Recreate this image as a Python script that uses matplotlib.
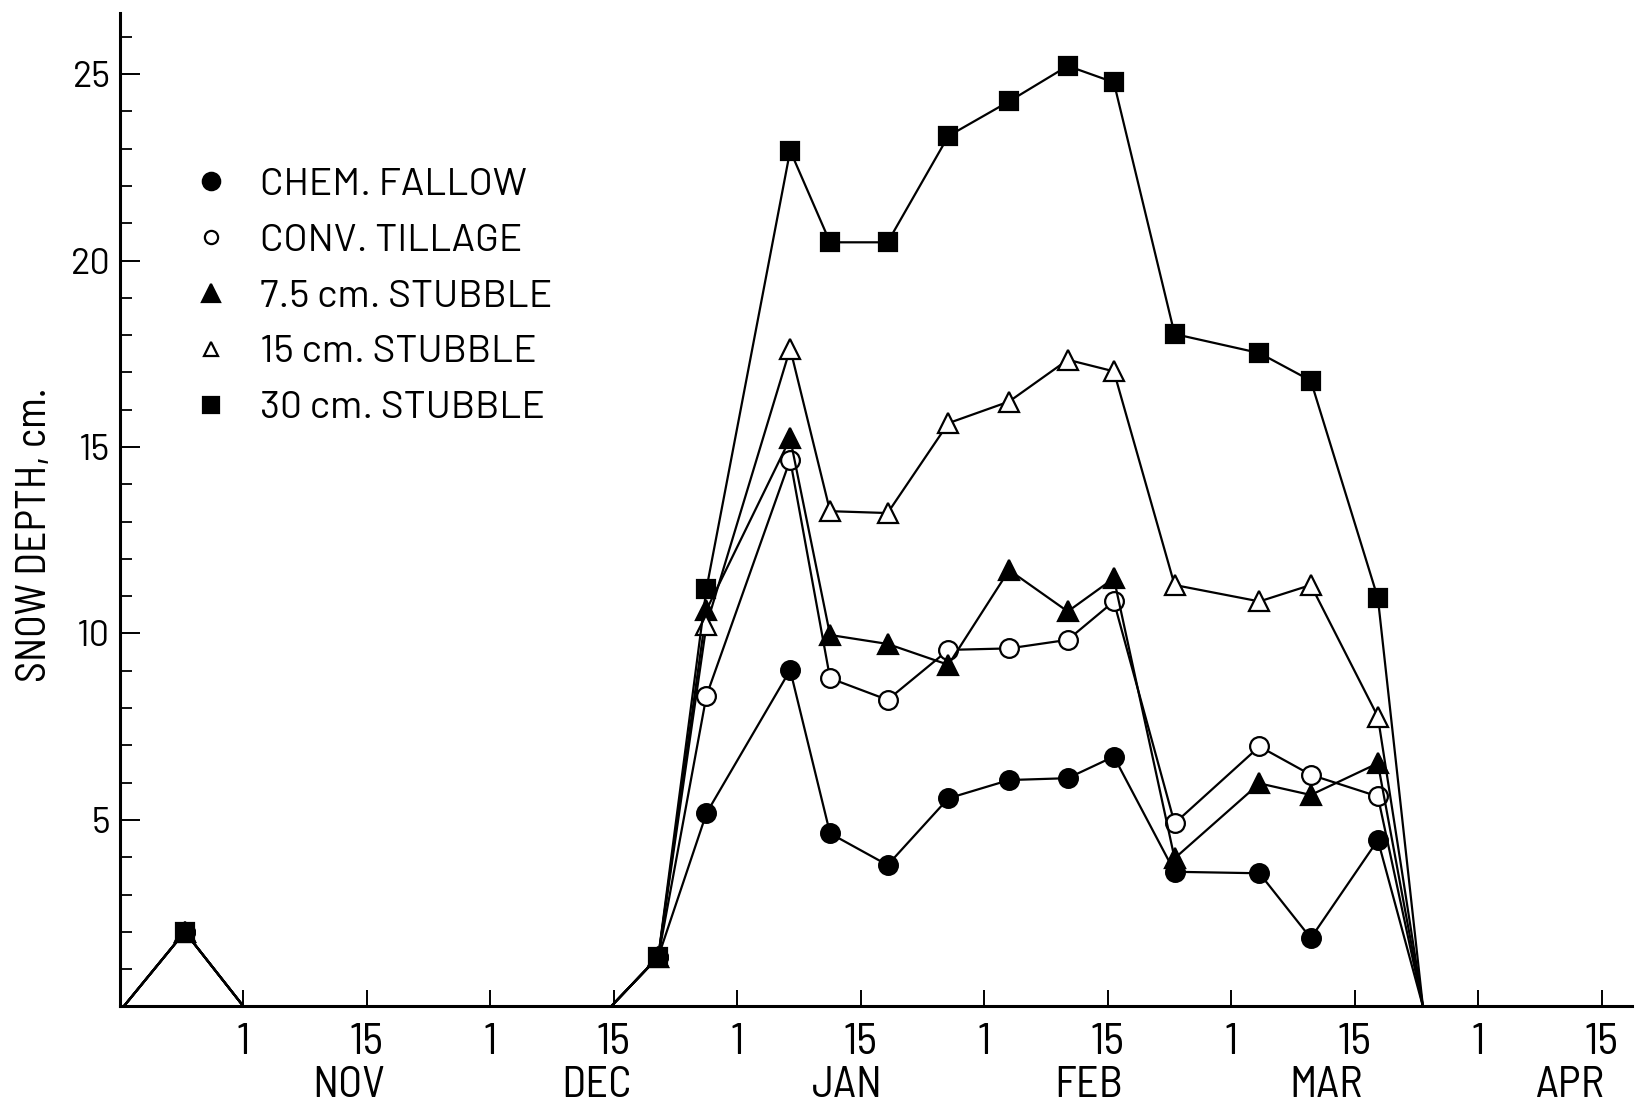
import matplotlib
matplotlib.use("Agg")
import matplotlib.pyplot as plt
from matplotlib.lines import Line2D
from matplotlib.ticker import MultipleLocator

# ---------------- data ----------------
# x position in half-month units: 0 = 1 Nov, 1 = 15 Nov, 2 = 1 Dec, ... (-1 = 15 Oct)
x_pos = [-0.97, -0.475, 0.0, 2.977, 3.359, 3.749, 4.427, 4.750, 5.216,
         5.708, 6.200, 6.675, 7.048, 7.540, 8.227, 8.643, 9.186, 9.551]

chem_fallow = [0, 2.0, 0, 0, 1.33, 5.18, 9.02, 4.64, 3.79, 5.58, 6.07, 6.12,
               6.70, 3.61, 3.57, 1.83, 4.46, 0]
conv_tillage = [0, 2.0, 0, 0, 1.33, 8.33, 14.66, 8.80, 8.22, 9.56, 9.60, 9.83,
                10.86, 4.91, 6.97, 6.21, 5.63, 0]
stubble_7_5 = [0, 2.0, 0, 0, 1.33, 10.63, 15.23, 9.96, 9.72, 9.16, 11.70, 10.59,
               11.48, 3.97, 5.98, 5.67, 6.52, 0]
stubble_15 = [0, 2.0, 0, 0, 1.33, 10.23, 17.64, 13.28, 13.23, 15.64, 16.22, 17.34,
              17.03, 11.30, 10.86, 11.30, 7.77, 0]
stubble_30 = [0, 2.0, 0, 0, 1.33, 11.20, 22.95, 20.49, 20.49, 23.34, 24.27, 25.22,
              24.78, 18.03, 17.52, 16.78, 10.95, 0]

series_labels = ["CHEM. FALLOW", "CONV. TILLAGE", "7.5 cm. STUBBLE",
                 "15 cm. STUBBLE", "30 cm. STUBBLE"]

xtick_pos = list(range(0, 12))
xtick_labels = ["1", "15", "1", "15", "1", "15", "1", "15", "1", "15", "1", "15"]
month_pos = [0.85, 2.86, 4.89, 6.84, 8.77, 10.75]
month_labels = ["NOV", "DEC", "JAN", "FEB", "MAR", "APR"]
ytick_pos = [5, 10, 15, 20, 25]

# ---------------- fonts ----------------
NARROW = ["Barlow Semi Condensed", "Liberation Sans Narrow", "Liberation Sans", "DejaVu Sans"]
REG = ["Barlow", "Liberation Sans", "DejaVu Sans"]

# ---------------- figure ----------------
fig = plt.figure(figsize=(16.42, 11.04), dpi=100)
ax = fig.add_axes([120 / 1642, (1104 - 1006.4) / 1104, 1511.5 / 1642, 993.8 / 1104])

styles = [
    dict(marker="o", mfc="black", mec="black", ms=13.5),
    dict(marker="o", mfc="white", mec="black", ms=13.5),
    dict(marker="^", mfc="black", mec="black", ms=14.5),
    dict(marker="^", mfc="white", mec="black", ms=14.5),
    dict(marker="s", mfc="black", mec="black", ms=13),
]
all_series = [chem_fallow, conv_tillage, stubble_7_5, stubble_15, stubble_30]
for vals, st in zip(all_series, styles):
    mk = [i for i, v in enumerate(vals) if v > 0]
    ax.plot(x_pos, vals, color="black", lw=1.6, mew=1.6, markevery=mk,
            solid_joinstyle="miter", **st)

ax.set_xlim(-1.0, 11.24)
ax.set_ylim(0, 26.65)

for s in ["top", "right"]:
    ax.spines[s].set_visible(False)
ax.spines["left"].set_linewidth(2.2)
ax.spines["bottom"].set_linewidth(2.2)

ax.set_yticks(ytick_pos)
ax.set_yticklabels([str(v) for v in ytick_pos], fontfamily=REG, fontsize=26)
ax.yaxis.set_minor_locator(MultipleLocator(1))
ax.tick_params(axis="y", which="major", direction="in", length=14.5, width=1.4, pad=7)
ax.tick_params(axis="y", which="minor", direction="in", length=8.5, width=1.3)

ax.set_xticks(xtick_pos)
ax.set_xticklabels(xtick_labels, fontfamily=NARROW, fontsize=32)
ax.set_xticks(month_pos, minor=True)
ax.set_xticklabels(month_labels, minor=True, fontfamily=NARROW, fontsize=32)
ax.tick_params(axis="x", which="major", direction="in", length=11.5, width=1.4, pad=12)
ax.tick_params(axis="x", which="minor", length=0, pad=43)

ax.set_ylabel("SNOW DEPTH, cm.", fontfamily=NARROW, fontsize=30)
ax.yaxis.set_label_coords(-0.043, 0.475)

# legend (markers only)
leg_ms = [12.5, 9.5, 13.5, 10.5, 11.5]
handles = [Line2D([], [], ls="none", color="black", mew=1.6, **dict(st, ms=m))
           for st, m in zip(styles, leg_ms)]
ax.legend(handles, series_labels, loc="upper left",
          bbox_to_anchor=(0.0473, 0.844), borderaxespad=0, borderpad=0,
          frameon=False, handlelength=1.0, handletextpad=0.76,
          labelspacing=0.53, prop={"family": REG, "size": 28})

fig.savefig("out.png", dpi=100)
